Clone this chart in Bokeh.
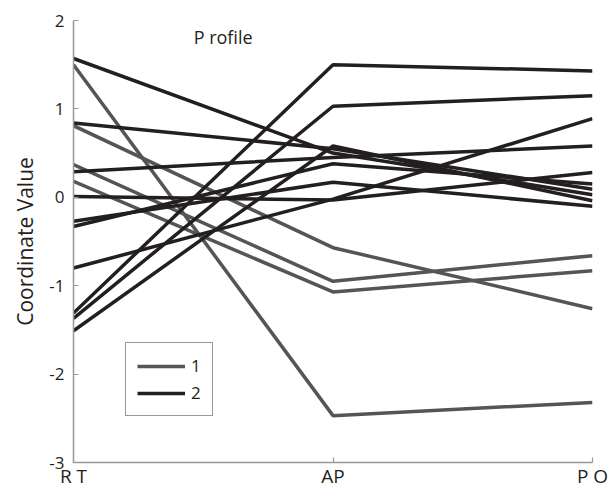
from bokeh.plotting import figure
from bokeh.models import ColumnDataSource, FixedTicker, Label, Legend, LegendItem
from bokeh.embed import file_html
from bokeh.resources import INLINE

# ---- data ----
categories = ["RT", "AP", "PO"]
x_tick_labels = ["R T", "AP", "P O"]
y_ticks = [-3, -2, -1, 0, 1, 2]
y_tick_labels = ["-3", "-2", "-1", "0", "1", "2"]

# class 1 (gray) profiles: values at RT, AP, PO
class1_rt = [1.50, 0.81, 0.37, 0.18]
class1_ap = [-2.47, -0.57, -0.95, -1.07]
class1_po = [-2.32, -1.26, -0.66, -0.83]

# class 2 (black) profiles
class2_rt = [1.57, 0.84, 0.29, 0.01, -0.27, -0.33, -0.80, -1.31, -1.37, -1.51]
class2_ap = [0.50, 0.55, 0.45, -0.03, 0.17, 0.38, -0.02, 1.50, 1.03, 0.58]
class2_po = [0.03, 0.09, 0.58, 0.28, -0.10, 0.15, 0.89, 1.43, 1.15, -0.04]

legend_labels = ["1", "2"]
title_text = "P rofile"
y_label = "Coordinate Value"

FONT = "Open Sans"
TXT = "#231f20"
GRAY = "#555555"
BLACK = "#231f20"

xpos = list(range(len(categories)))


def make_source(rt, ap, po):
    xs, ys = [], []
    for a, b, c in zip(rt, ap, po):
        xs.append(xpos)
        ys.append([a, b, c])
    return ColumnDataSource(dict(xs=xs, ys=ys))


p = figure(width=615, height=491, output_backend="svg", toolbar_location=None,
           x_range=(0, 2), y_range=(-3, 2),
           min_border_left=73, min_border_right=23,
           min_border_top=20, min_border_bottom=28)
p.outline_line_color = None
p.xgrid.visible = False
p.ygrid.visible = False
p.background_fill_color = "white"
p.border_fill_color = "white"

r1 = p.multi_line("xs", "ys", source=make_source(class1_rt, class1_ap, class1_po),
                  line_color=GRAY, line_width=3.5)
r2 = p.multi_line("xs", "ys", source=make_source(class2_rt, class2_ap, class2_po),
                  line_color=BLACK, line_width=3.5)

legend = Legend(items=[LegendItem(label=legend_labels[0], renderers=[r1]),
                       LegendItem(label=legend_labels[1], renderers=[r2])],
                location=(52, 46))
legend.glyph_width = 48
legend.glyph_height = 18
legend.label_height = 18
legend.label_width = 8
legend.spacing = 4
legend.padding = 11
legend.margin = 0
legend.label_standoff = 6
legend.label_text_font = FONT
legend.label_text_font_size = "17px"
legend.label_text_color = TXT
legend.border_line_color = "#333333"
legend.border_line_width = 1.2
legend.background_fill_alpha = 1
p.add_layout(legend)

# axes
for ax in (p.xaxis[0], p.yaxis[0]):
    ax.axis_line_color = "#999999"
    ax.axis_line_width = 1.5
    ax.major_tick_line_color = "#999999"
    ax.major_tick_line_width = 1.2
    ax.major_tick_in = 5
    ax.major_tick_out = 0
    ax.minor_tick_line_color = None
    ax.major_label_text_font = FONT
    ax.major_label_text_color = TXT

p.xaxis.ticker = FixedTicker(ticks=xpos)
p.xaxis.major_label_overrides = {i: t for i, t in zip(xpos, x_tick_labels)}
p.xaxis.major_label_text_font_size = "19px"
p.xaxis.major_label_standoff = 0

p.yaxis.ticker = FixedTicker(ticks=y_ticks)
p.yaxis.major_label_overrides = {t: s for t, s in zip(y_ticks, y_tick_labels)}
p.yaxis.major_label_text_font_size = "17px"
p.yaxis.major_label_standoff = 9
p.yaxis.axis_label = y_label
p.yaxis.axis_label_text_font = FONT
p.yaxis.axis_label_text_font_size = "21px"
p.yaxis.axis_label_text_font_style = "normal"
p.yaxis.axis_label_text_color = TXT
p.yaxis.axis_label_standoff = 7

p.add_layout(Label(x=0.463, y=1.81, text=title_text, text_font=FONT,
                   text_font_size="18px", text_color=TXT,
                   text_baseline="middle", text_align="left"))

open("out.html", "w").write(file_html(p, INLINE))
